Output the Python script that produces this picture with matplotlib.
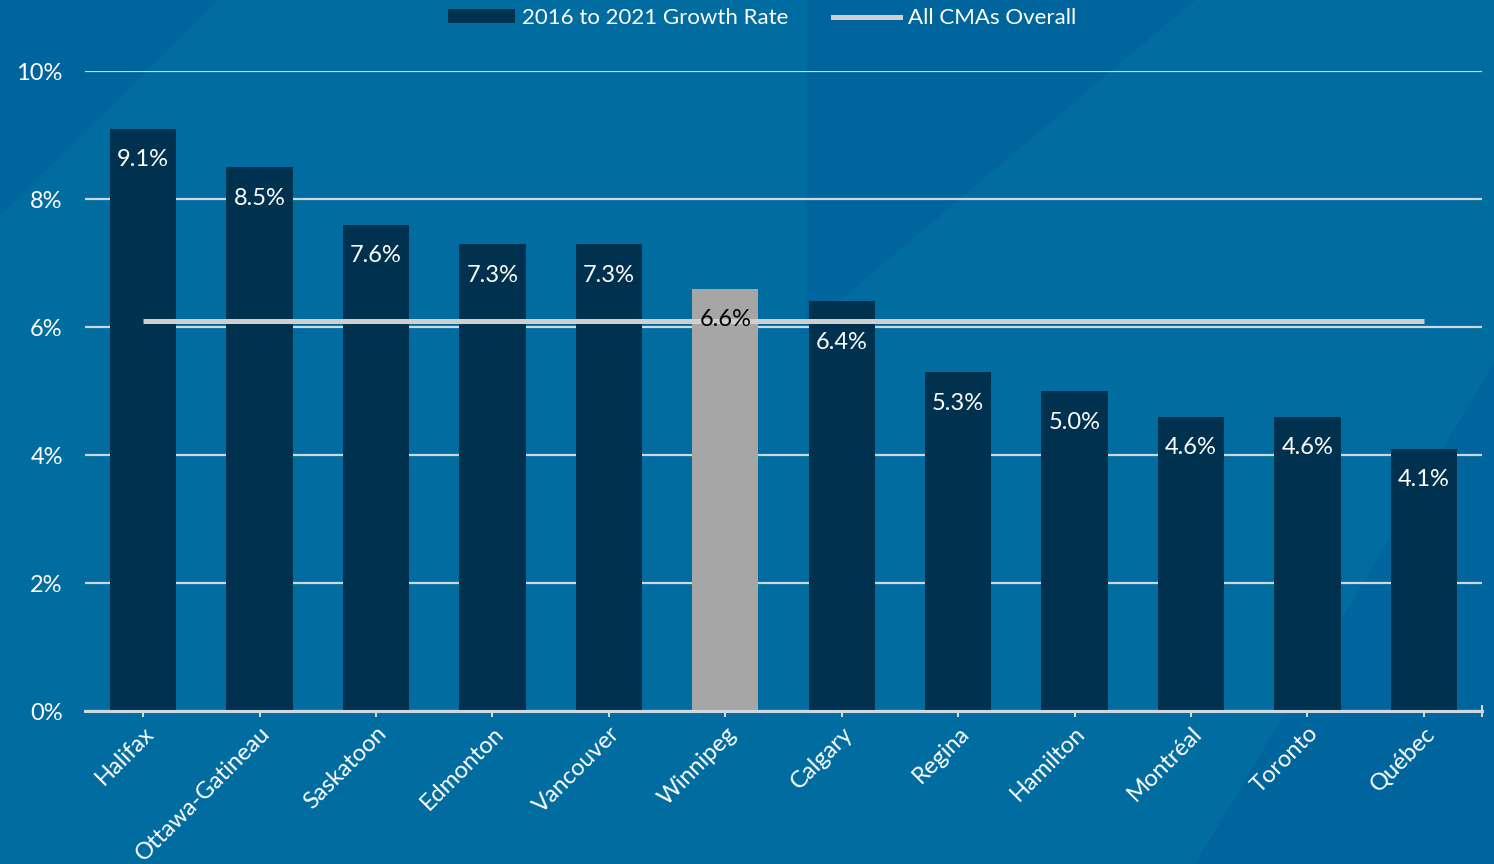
"""CMA population growth 2016-2021, bar chart vs all-CMA average."""
import matplotlib
matplotlib.use("Agg")
import matplotlib.pyplot as plt
from matplotlib.lines import Line2D
from matplotlib.patches import Patch, Polygon

# ---------- data ----------
CITIES = ["Halifax", "Ottawa-Gatineau", "Saskatoon", "Edmonton", "Vancouver",
          "Winnipeg", "Calgary", "Regina", "Hamilton", "Montréal", "Toronto", "Québec"]
GROWTH = [9.1, 8.5, 7.6, 7.3, 7.3, 6.6, 6.4, 5.3, 5.0, 4.6, 4.6, 4.1]
HIGHLIGHT = "Winnipeg"
ALL_CMAS = 6.1
Y_TICKS = [0, 2, 4, 6, 8, 10]

BG_DARK = "#00659c"
BG_LIGHT = "#006ca0"
BAR_COLOR = "#00324f"
HL_COLOR = "#a6a6a6"
AVG_COLOR = "#cfcfcf"
GRID_COLOR = "#cdd8e2"
FONT = ["Lato", "DejaVu Sans"]

plt.rcParams["font.family"] = FONT

fig = plt.figure(figsize=(14.94, 8.64), dpi=100)
fig.patch.set_facecolor(BG_DARK)

# subtle diagonal bands in the background
bands = [
    [(0.146, 1.0), (0.0, 0.75), (0.0, 0.0), (0.54, 0.0), (0.54, 1.0)],
    [(0.54, 0.62), (0.54, 0.0), (0.80, 0.0), (1.0, 0.58), (1.0, 1.0), (0.80, 1.0)],
]
for pts in bands:
    fig.add_artist(Polygon(pts, closed=True, transform=fig.transFigure,
                           facecolor=BG_LIGHT, edgecolor="none", zorder=-10))

ax = fig.add_axes([85 / 1494, 153 / 864, 1397 / 1494, 640 / 864])
ax.set_facecolor("none")

x = list(range(len(CITIES)))
colors = [HL_COLOR if c == HIGHLIGHT else BAR_COLOR for c in CITIES]
ax.bar(x, GROWTH, width=0.57, color=colors, zorder=3)

ax.plot([x[0], x[-1]], [ALL_CMAS, ALL_CMAS], color=AVG_COLOR, lw=3.6,
        solid_capstyle="butt", zorder=4)

for xi, v, c in zip(x, GROWTH, CITIES):
    anchor, off = v, -15
    # white labels that would sit on the average line are pushed below it
    if c != HIGHLIGHT and 0 < v - ALL_CMAS < 0.6:
        anchor, off = ALL_CMAS, -8
    ax.annotate(f"{v:.1f}%", (xi, anchor), xytext=(0, off), textcoords="offset points",
                ha="center", va="top", fontsize=17, zorder=5,
                color="black" if c == HIGHLIGHT else "white")

ax.set_xlim(-0.5, 11.5)
ax.set_ylim(0, 10)
ax.set_yticks(Y_TICKS)
ax.set_yticklabels([f"{t}%" for t in Y_TICKS], fontsize=17, color="white")
ax.tick_params(axis="y", length=0, pad=16)
ax.yaxis.grid(True, color=GRID_COLOR, lw=1.6, zorder=0)
ax.set_axisbelow(True)

ax.set_xticks(x)
ax.set_xticklabels(CITIES, rotation=45, ha="right", rotation_mode="anchor",
                   fontsize=17, color="white")
ax.set_xticks([11.5], minor=True)
ax.tick_params(axis="x", which="both", direction="inout", length=9, width=1.5,
               color=GRID_COLOR, pad=4)

for s in ("left", "right", "top"):
    ax.spines[s].set_visible(False)
ax.spines["bottom"].set_color(GRID_COLOR)
ax.spines["bottom"].set_linewidth(2.2)
ax.spines["bottom"].set_zorder(6)

handles = [Patch(facecolor=BAR_COLOR, edgecolor="none"),
           Line2D([0], [0], color=AVG_COLOR, lw=3.6)]
fig.legend(handles, ["2016 to 2021 Growth Rate", "All CMAs Overall"],
           loc="center", bbox_to_anchor=(762 / 1494, 1 - 18 / 864), ncol=2,
           frameon=False, fontsize=16, labelcolor="white",
           handlelength=3.0, handleheight=0.55, handletextpad=0.35,
           columnspacing=2.0)

fig.savefig("out.png", dpi=100, facecolor=fig.get_facecolor())
